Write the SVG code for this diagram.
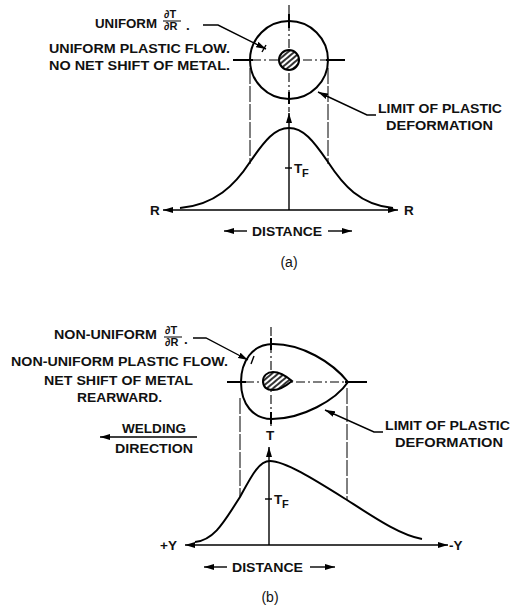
<svg xmlns="http://www.w3.org/2000/svg" width="512" height="612" viewBox="0 0 512 612">
<defs>
<marker id="ah" markerUnits="userSpaceOnUse" markerWidth="11" markerHeight="7" refX="10" refY="3.5" orient="auto-start-reverse">
<path d="M0,0.5 L10,3.5 L0,6.5 Z" fill="#000"/>
</marker>
<pattern id="hatch" patternUnits="userSpaceOnUse" width="4" height="4" patternTransform="rotate(-40)">
<rect width="4" height="4" fill="#fff"/>
<line x1="0" y1="1" x2="4" y2="1" stroke="#000" stroke-width="1.6"/>
</pattern>
<style>
.t{font-family:"Liberation Sans",Arial,sans-serif;font-size:13.5px;font-weight:bold;fill:#111}
.s{font-family:"Liberation Sans",Arial,sans-serif;font-size:11px;font-weight:bold;fill:#111}
.n{font-family:"Liberation Sans",Arial,sans-serif;font-size:14px;font-weight:normal;fill:#111}
.ln{fill:none;stroke:#000;stroke-width:1.4}
.th{fill:none;stroke:#000;stroke-width:2}
.cl{fill:none;stroke:#000;stroke-width:1.1;stroke-dasharray:9 3 2 3}
.lim{fill:none;stroke:#000;stroke-width:1;stroke-dasharray:16 2}
.ar{fill:none;stroke:#000;stroke-width:1.4;marker-end:url(#ah)}
.ar2{fill:none;stroke:#000;stroke-width:1.6;marker-start:url(#ah);marker-end:url(#ah)}
</style>
</defs>

<g id="connectors">
<!-- (a) centre lines -->
<path class="cl" d="M289,5 V112"/>
<path class="th" d="M289,14 V28 M289,92 V104"/>
<path class="cl" d="M252,60 H327"/>
<path class="th" d="M233,60 H253 M326,60 H345"/>
<!-- (a) limit lines -->
<path class="lim" d="M250,68 V164"/>
<path class="lim" d="M328,68 V164"/>
<!-- (a) leaders -->
<path class="ar" d="M203,25 H218 L266,49"/>
<path class="ln" d="M262,52 L266,45"/>
<path class="ar" d="M376,115 H367 L318,92"/>
<!-- (a) axes -->
<path class="ar2" d="M163,210 H398"/>
<path class="ar" d="M289,210 V113"/>
<path class="ln" d="M285,168 H292"/>
<path class="th" d="M180,208 C215,205 235,185 250,162 C265,140 275,128 289,128 C303,128 313,140 328,162 C343,185 360,205 393,208"/>
<path class="ar" d="M247,231 H224"/>
<path class="ar" d="M328,231 H352"/>

<!-- (b) centre lines -->
<path class="cl" d="M271,327 V428"/>
<path class="th" d="M271,338 V350 M271,412 V424"/>
<path class="cl" d="M245,382 H346"/>
<path class="th" d="M227,382 H246 M345,382 H367"/>
<!-- (b) limit lines -->
<path class="lim" d="M240,398 V497"/>
<path class="lim" d="M347,388 V500"/>
<!-- (b) leaders -->
<path class="ar" d="M193,338 H206 L248,360"/>
<path class="ln" d="M251,364 L254,356"/>
<path class="ar" d="M383,432 H374 L325,410"/>
<path class="ar" d="M197,437 H100"/>
<!-- (b) axes -->
<path class="ar2" d="M185,545 H448"/>
<path class="ar" d="M269,545 V447"/>
<path class="ln" d="M265,499 H272"/>
<path class="th" d="M195,542 C215,540 225,520 240,497 C252,475 259,461 270,461 C285,461 315,480 347,500 C375,518 400,535 422,539"/>
<path class="ar" d="M227,567 H204"/>
<path class="ar" d="M310,567 H335"/>
</g>

<g id="node-a-zone">
<circle cx="289" cy="60" r="39" class="th"/>
</g>
<g id="node-a-weld">
<circle cx="289" cy="60" r="10" fill="url(#hatch)" stroke="#000" stroke-width="2"/>
</g>
<g id="node-b-zone">
<path class="th" d="M348,382 C332,362 302,344 273,344 C252,344 241,362 241,382 C241,404 253,419 272,419 C302,419 336,400 348,382 Z"/>
</g>
<g id="node-b-weld">
<path d="M292,381 C285,375 279,372 273,372 C267,372 263,376 263,381 C263,387 267,390 273,390 C280,390 286,386 292,381 Z" fill="url(#hatch)" stroke="#000" stroke-width="2"/>
</g>

<g id="labels-a">
<text class="t" x="95" y="28" textLength="62" lengthAdjust="spacingAndGlyphs">UNIFORM</text>
<text class="s" x="164" y="18">∂T</text>
<path d="M163,21 H181" stroke="#000" stroke-width="1"/>
<text class="s" x="164" y="30">∂R</text>
<text class="t" x="186" y="30">.</text>
<text class="t" x="49" y="53" textLength="181" lengthAdjust="spacingAndGlyphs">UNIFORM PLASTIC FLOW.</text>
<text class="t" x="49" y="70" textLength="181" lengthAdjust="spacingAndGlyphs">NO NET SHIFT OF METAL.</text>
<text class="t" x="378" y="113" textLength="124" lengthAdjust="spacingAndGlyphs">LIMIT OF PLASTIC</text>
<text class="t" x="386" y="130" textLength="107" lengthAdjust="spacingAndGlyphs">DEFORMATION</text>
<text class="t" x="150" y="215">R</text>
<text class="t" x="404" y="215">R</text>
<text class="t" x="294" y="173">T</text>
<text class="s" x="302" y="177">F</text>
<text class="t" x="252" y="236" textLength="70" lengthAdjust="spacingAndGlyphs">DISTANCE</text>
<text class="n" x="289" y="267" text-anchor="middle">(a)</text>
</g>

<g id="labels-b">
<text class="t" x="54" y="339" textLength="103" lengthAdjust="spacingAndGlyphs">NON-UNIFORM</text>
<text class="s" x="165" y="334">∂T</text>
<path d="M164,337 H182" stroke="#000" stroke-width="1"/>
<text class="s" x="165" y="346">∂R</text>
<text class="t" x="184" y="344">.</text>
<text class="t" x="11" y="366" textLength="217" lengthAdjust="spacingAndGlyphs">NON-UNIFORM PLASTIC FLOW.</text>
<text class="t" x="44" y="385" textLength="149" lengthAdjust="spacingAndGlyphs">NET SHIFT OF METAL</text>
<text class="t" x="77" y="402" textLength="85" lengthAdjust="spacingAndGlyphs">REARWARD.</text>
<text class="t" x="122" y="433" textLength="64" lengthAdjust="spacingAndGlyphs">WELDING</text>
<text class="t" x="115" y="453" textLength="78" lengthAdjust="spacingAndGlyphs">DIRECTION</text>
<text class="t" x="385" y="430" textLength="125" lengthAdjust="spacingAndGlyphs">LIMIT OF PLASTIC</text>
<text class="t" x="395" y="447" textLength="108" lengthAdjust="spacingAndGlyphs">DEFORMATION</text>
<text class="t" x="270" y="440" text-anchor="middle">T</text>
<text class="t" x="274" y="504">T</text>
<text class="s" x="282" y="508">F</text>
<text class="t" x="160" y="550">+Y</text>
<text class="t" x="449" y="550">-Y</text>
<text class="t" x="232" y="572" textLength="71" lengthAdjust="spacingAndGlyphs">DISTANCE</text>
<text class="n" x="270" y="602" text-anchor="middle">(b)</text>
</g>
</svg>
